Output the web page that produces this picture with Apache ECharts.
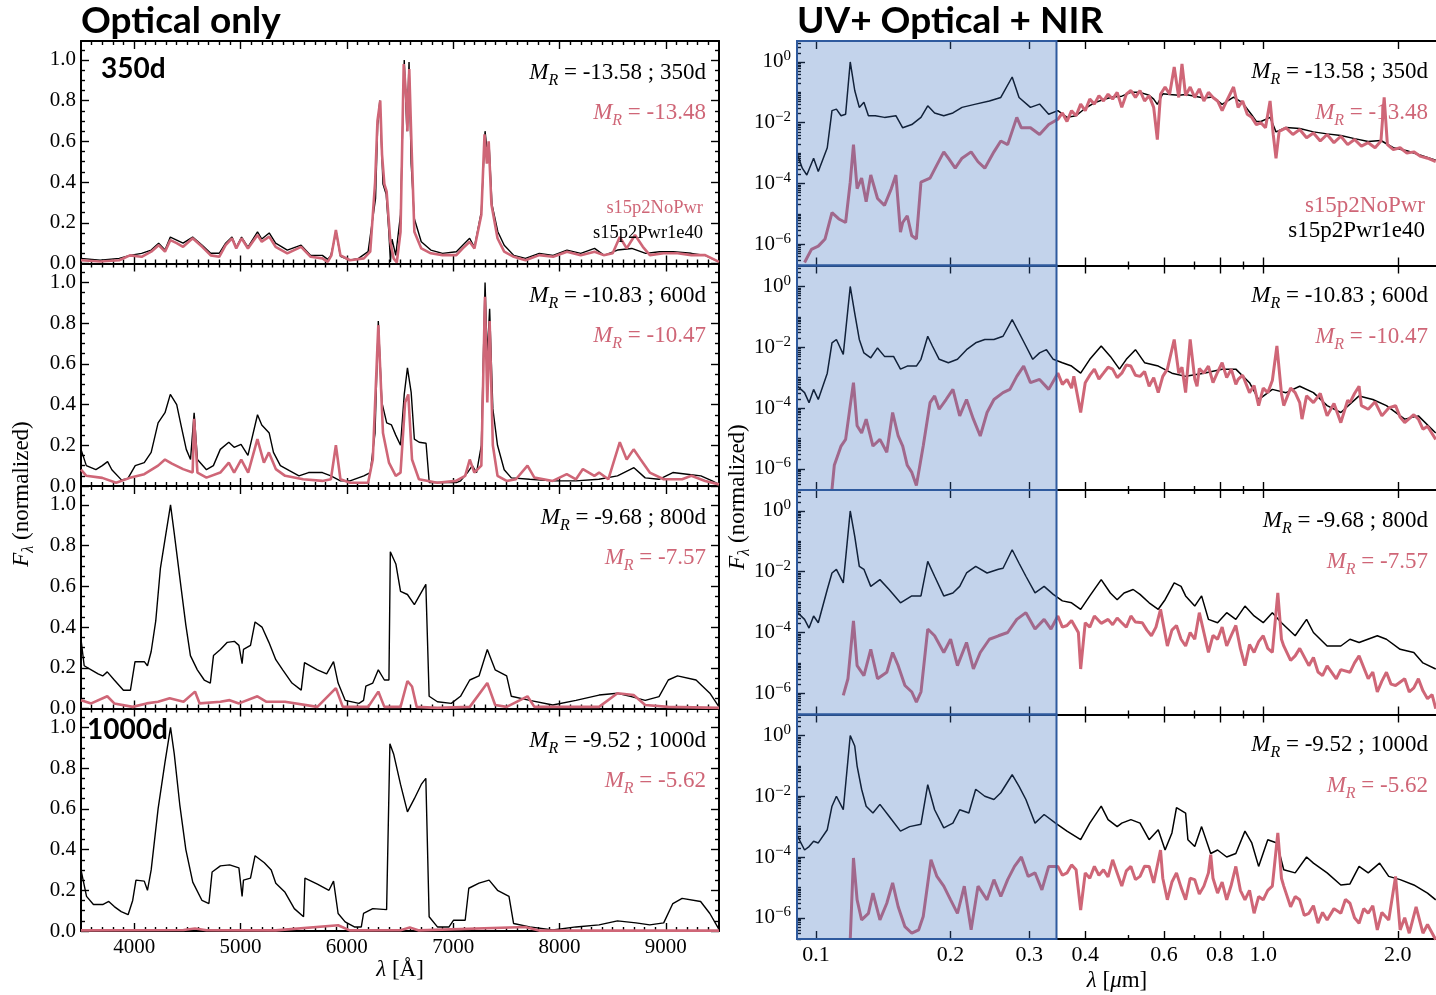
<!DOCTYPE html>
<html>
<head>
<meta charset="utf-8">
<script src="https://cdn.jsdelivr.net/npm/echarts@6/dist/echarts.min.js"></script>
<style>
  html, body { margin: 0; padding: 0; background: #fff; }
  #chart { width: 1436px; height: 995px; }
</style>
</head>
<body>
<div id="chart"></div>
<script>
// ---------- optical spectra: [wavelength (Å), normalised F_lambda] ----------
const opt350Pwr = [[3500,0.025],[3680,0.016],[3860,0.025],[3960,0.04],[4070,0.05],[4160,0.066],[4230,0.1],[4290,0.066],[4340,0.13],[4400,0.115],[4460,0.1],[4550,0.13],[4640,0.09],[4720,0.05],[4800,0.05],[4860,0.1],[4920,0.13],[4960,0.08],[5010,0.13],[5070,0.08],[5160,0.155],[5200,0.12],[5270,0.15],[5330,0.1],[5440,0.066],[5570,0.09],[5660,0.04],[5770,0.04],[5820,0.02],[5850,0.04],[5900,0.155],[5940,0.035],[6030,0.016],[6110,0.025],[6200,0.058],[6270,0.32],[6290,0.68],[6310,0.8],[6340,0.39],[6370,0.34],[6395,0.156],[6410,0.008],[6425,0.12],[6460,0.04],[6505,0.24],[6540,1.0],[6565,0.65],[6585,0.99],[6605,0.49],[6635,0.22],[6700,0.107],[6790,0.066],[6900,0.05],[7030,0.058],[7090,0.09],[7155,0.124],[7200,0.08],[7265,0.255],[7300,0.65],[7320,0.55],[7338,0.585],[7365,0.29],[7420,0.156],[7480,0.09],[7570,0.04],[7680,0.025],[7810,0.05],[7940,0.04],[8070,0.066],[8200,0.05],[8330,0.074],[8420,0.04],[8545,0.066],[8680,0.074],[8810,0.05],[8940,0.058],[9070,0.058],[9240,0.05],[9370,0.04],[9500,0.008]];
const opt350NoPwr = [[3500,0.016],[3680,0.01],[3860,0.016],[3960,0.04],[4070,0.033],[4160,0.058],[4230,0.09],[4290,0.058],[4340,0.115],[4400,0.1],[4460,0.082],[4550,0.124],[4640,0.082],[4720,0.04],[4800,0.033],[4860,0.09],[4920,0.124],[4960,0.074],[5010,0.124],[5070,0.074],[5160,0.14],[5200,0.107],[5270,0.132],[5330,0.082],[5440,0.05],[5570,0.082],[5660,0.033],[5770,0.025],[5820,0.008],[5855,0.04],[5897,0.165],[5940,0.04],[6030,0.016],[6160,0.025],[6220,0.058],[6266,0.4],[6288,0.7],[6314,0.8],[6331,0.535],[6353,0.39],[6374,0.354],[6409,0.107],[6440,0.025],[6470,0.005],[6505,0.156],[6535,0.98],[6557,0.83],[6570,0.65],[6587,0.955],[6609,0.57],[6635,0.156],[6700,0.074],[6790,0.05],[6900,0.041],[7030,0.041],[7090,0.074],[7155,0.107],[7200,0.074],[7265,0.24],[7295,0.635],[7317,0.49],[7334,0.6],[7360,0.29],[7417,0.124],[7480,0.058],[7570,0.033],[7680,0.016],[7810,0.041],[7940,0.033],[8070,0.058],[8200,0.041],[8330,0.058],[8415,0.041],[8500,0.05],[8567,0.13],[8632,0.074],[8710,0.14],[8784,0.082],[8850,0.041],[8980,0.05],[9110,0.05],[9240,0.041],[9370,0.041],[9500,0.008]];

const opt600Pwr = [[3500,0.18],[3550,0.1],[3640,0.08],[3700,0.1],[3750,0.12],[3790,0.08],[3880,0.03],[3940,0.036],[4010,0.1],[4095,0.115],[4160,0.165],[4225,0.31],[4290,0.36],[4340,0.45],[4400,0.4],[4440,0.3],[4490,0.18],[4530,0.13],[4564,0.36],[4595,0.13],[4680,0.08],[4745,0.1],[4810,0.18],[4890,0.215],[4940,0.19],[5005,0.205],[5070,0.15],[5160,0.35],[5200,0.3],[5270,0.26],[5310,0.165],[5375,0.1],[5460,0.075],[5550,0.05],[5640,0.066],[5770,0.066],[5850,0.05],[5940,0.025],[6030,0.025],[6160,0.05],[6220,0.066],[6265,0.26],[6296,0.81],[6330,0.41],[6375,0.31],[6420,0.3],[6460,0.25],[6505,0.2],[6540,0.45],[6570,0.58],[6605,0.46],[6635,0.23],[6680,0.215],[6745,0.21],[6775,0.017],[6900,0.017],[7030,0.017],[7070,0.025],[7135,0.066],[7180,0.1],[7220,0.066],[7265,0.2],[7300,1.0],[7320,0.63],[7343,0.87],[7373,0.38],[7417,0.2],[7480,0.08],[7547,0.04],[7720,0.033],[7937,0.025],[8155,0.025],[8370,0.033],[8545,0.05],[8700,0.09],[8806,0.04],[8936,0.033],[9066,0.066],[9200,0.058],[9330,0.05],[9436,0.025],[9500,0.008]];
const opt600NoPwr = [[3500,0.08],[3550,0.05],[3700,0.04],[3830,0.016],[3960,0.04],[4095,0.058],[4225,0.1],[4290,0.13],[4355,0.11],[4460,0.083],[4550,0.066],[4564,0.33],[4595,0.066],[4680,0.041],[4810,0.066],[4890,0.115],[4940,0.066],[5007,0.13],[5072,0.066],[5159,0.23],[5220,0.115],[5267,0.165],[5332,0.083],[5420,0.05],[5590,0.033],[5770,0.025],[5850,0.033],[5897,0.2],[5940,0.033],[6030,0.016],[6200,0.016],[6244,0.13],[6296,0.79],[6340,0.26],[6396,0.115],[6460,0.05],[6505,0.066],[6548,0.41],[6578,0.45],[6613,0.13],[6678,0.033],[6850,0.016],[7026,0.025],[7113,0.05],[7156,0.13],[7199,0.066],[7265,0.1],[7299,0.93],[7321,0.41],[7343,0.81],[7373,0.2],[7417,0.05],[7503,0.025],[7590,0.033],[7699,0.1],[7764,0.041],[7937,0.025],[8068,0.058],[8155,0.033],[8220,0.083],[8328,0.05],[8372,0.066],[8459,0.033],[8567,0.215],[8632,0.13],[8697,0.18],[8763,0.13],[8849,0.066],[8980,0.033],[9153,0.033],[9240,0.05],[9370,0.025],[9500,0.008]];

const opt800Pwr = [[3500,0.34],[3530,0.21],[3596,0.19],[3661,0.17],[3704,0.16],[3747,0.18],[3813,0.14],[3899,0.09],[3965,0.09],[4008,0.23],[4095,0.23],[4125,0.21],[4160,0.28],[4203,0.43],[4247,0.69],[4299,0.86],[4342,1.0],[4377,0.86],[4442,0.59],[4486,0.41],[4529,0.26],[4594,0.19],[4659,0.14],[4716,0.125],[4746,0.26],[4811,0.29],[4876,0.325],[4942,0.33],[4985,0.31],[5015,0.22],[5028,0.29],[5094,0.31],[5137,0.425],[5202,0.4],[5267,0.325],[5332,0.24],[5397,0.19],[5484,0.125],[5571,0.09],[5602,0.225],[5723,0.19],[5810,0.17],[5875,0.23],[5918,0.125],[5984,0.04],[6114,0.025],[6157,0.04],[6179,0.11],[6244,0.125],[6296,0.19],[6353,0.14],[6396,0.14],[6409,0.77],[6461,0.71],[6505,0.575],[6570,0.56],[6635,0.51],[6743,0.61],[6774,0.06],[6852,0.033],[6982,0.025],[7069,0.06],[7156,0.14],[7243,0.16],[7321,0.29],[7395,0.19],[7503,0.16],[7547,0.06],[7720,0.04],[7937,0.017],[8155,0.04],[8372,0.066],[8545,0.075],[8676,0.058],[8806,0.04],[8936,0.058],[9023,0.14],[9110,0.16],[9284,0.14],[9414,0.075],[9500,0.008]];
const opt800NoPwr = [[3500,0.04],[3596,0.025],[3747,0.06],[3813,0.025],[3986,0.008],[4117,0.025],[4225,0.033],[4334,0.05],[4464,0.033],[4572,0.083],[4616,0.025],[4811,0.033],[4898,0.041],[4985,0.025],[5159,0.06],[5245,0.033],[5419,0.033],[5723,0.008],[5897,0.1],[5962,0.008],[6201,0.008],[6296,0.083],[6353,0.008],[6505,0.008],[6570,0.135],[6613,0.108],[6657,0.008],[6852,0.003],[7156,0.008],[7321,0.125],[7395,0.017],[7503,0.008],[7699,0.06],[7764,0.008],[8372,0.008],[8545,0.075],[8697,0.066],[8806,0.017],[9023,0.008],[9500,0.003]];

const opt1000Pwr = [[3500,0.3],[3552,0.17],[3617,0.13],[3704,0.13],[3761,0.145],[3813,0.12],[3878,0.095],[3943,0.08],[3986,0.15],[4017,0.25],[4095,0.245],[4125,0.2],[4160,0.3],[4225,0.6],[4290,0.83],[4342,1.0],[4377,0.87],[4429,0.62],[4486,0.4],[4551,0.24],[4638,0.15],[4703,0.135],[4733,0.29],[4811,0.32],[4898,0.325],[4985,0.31],[5015,0.17],[5028,0.25],[5094,0.26],[5137,0.37],[5224,0.335],[5289,0.3],[5332,0.235],[5419,0.19],[5506,0.11],[5593,0.07],[5606,0.26],[5723,0.23],[5832,0.2],[5875,0.245],[5918,0.086],[5984,0.045],[6071,0.02],[6136,0.02],[6157,0.086],[6244,0.11],[6374,0.105],[6405,0.92],[6440,0.87],[6505,0.72],[6570,0.585],[6635,0.65],[6700,0.72],[6743,0.75],[6774,0.07],[6852,0.02],[6961,0.02],[7004,0.053],[7113,0.053],[7147,0.21],[7243,0.235],[7338,0.25],[7417,0.2],[7525,0.17],[7568,0.037],[7720,0.02],[7937,0.005],[8155,0.02],[8372,0.03],[8545,0.05],[8719,0.04],[8849,0.03],[8980,0.04],[9066,0.135],[9153,0.16],[9327,0.145],[9414,0.086],[9500,0.008]];
const opt1000NoPwr = [[3500,0.003],[4464,0.005],[4572,0.012],[4680,0.004],[5332,0.003],[5918,0.028],[6027,0.003],[6505,0.004],[6592,0.017],[6678,0.003],[7677,0.02],[7807,0.002],[9500,0.002]];

// ---------- UV + optical + NIR spectra: [wavelength (µm), normalised F_lambda] ----------
const sed350Pwr = [[0.091,8.7e-4],[0.0932,3.2e-4],[0.0954,1.9e-4],[0.0988,6.8e-4],[0.1012,2.5e-4],[0.106,1.5e-3],[0.1086,2.5e-2],[0.1111,2.8e-2],[0.1138,1.7e-2],[0.1165,1.9e-2],[0.1193,1.0],[0.1221,0.115],[0.125,3.2e-2],[0.128,4.7e-2],[0.131,1.7e-2],[0.1357,1.7e-2],[0.1423,1.5e-2],[0.1509,1.7e-2],[0.1563,6.8e-3],[0.1638,8.7e-3],[0.1717,1.5e-2],[0.1778,3.6e-2],[0.1842,2.1e-2],[0.1931,1.7e-2],[0.2024,2.1e-2],[0.2121,3.2e-2],[0.2276,4.1e-2],[0.2442,5.2e-2],[0.259,6.8e-2],[0.2746,0.32],[0.2845,6.8e-2],[0.3017,3.2e-2],[0.3162,4.1e-2],[0.3314,1.9e-2],[0.3474,2.5e-2],[0.3641,1.5e-2],[0.3816,1.7e-2],[0.4,3.0e-2],[0.4193,4.5e-2],[0.4394,5.8e-2],[0.4606,7.0e-2],[0.4828,7.5e-2],[0.506,0.1],[0.5303,0.1],[0.5558,8.0e-2],[0.569,6.0e-2],[0.5798,4.0e-2],[0.5963,9.0e-2],[0.6177,8.5e-2],[0.6474,8.0e-2],[0.6706,8.5e-2],[0.7029,7.5e-2],[0.7368,6.5e-2],[0.7722,7.0e-2],[0.8094,4.0e-2],[0.8584,7.0e-2],[0.8996,4.5e-2],[0.9429,1.8e-2],[0.9653,1.1e-2],[0.9883,1.1e-2],[1.0359,1.5e-2],[1.068,5.0e-3],[1.1246,7.0e-3],[1.2068,6.5e-3],[1.295,5.0e-3],[1.3896,4.3e-3],[1.4912,3.8e-3],[1.6001,3.0e-3],[1.717,2.4e-3],[1.8332,2.6e-3],[1.9537,1.5e-3],[2.0956,1.2e-3],[2.2495,8.5e-4],[2.4307,5.8e-4]];
const sed350NoPwr = [[0.0943,2.5e-7],[0.0977,6.8e-7],[0.1012,8.7e-7],[0.1048,1.5e-6],[0.1086,1.1e-5],[0.1125,6.8e-6],[0.1165,5.2e-6],[0.1193,1.1e-4],[0.1213,1.9e-3],[0.1236,6.8e-5],[0.1265,1.5e-4],[0.1295,2.5e-5],[0.1326,1.9e-4],[0.1373,3.2e-5],[0.1423,1.9e-5],[0.1474,6.8e-5],[0.1509,1.9e-4],[0.1545,2.5e-6],[0.1563,5.2e-6],[0.16,8.7e-6],[0.1638,1.9e-6],[0.1677,1.5e-6],[0.1717,1.1e-4],[0.1799,1.5e-4],[0.1864,4.1e-4],[0.1931,1.1e-3],[0.1977,6.8e-4],[0.2048,3.2e-4],[0.2121,6.8e-4],[0.2223,1.1e-3],[0.2303,5.2e-4],[0.2385,3.2e-4],[0.25,1.1e-3],[0.259,2.5e-3],[0.2683,1.9e-3],[0.2812,1.5e-2],[0.2879,6.8e-3],[0.3017,6.8e-3],[0.3162,4.1e-3],[0.3314,8.7e-3],[0.3474,1.3e-2],[0.3556,2.1e-2],[0.3641,1.1e-2],[0.3728,2.5e-2],[0.3816,1.7e-2],[0.3907,4.1e-2],[0.4,2.5e-2],[0.4095,6.0e-2],[0.4193,4.1e-2],[0.4292,7.8e-2],[0.4394,5.2e-2],[0.4499,8.7e-2],[0.4606,6.0e-2],[0.4715,0.1],[0.4828,3.2e-2],[0.4942,8.7e-2],[0.506,0.115],[0.518,6.8e-2],[0.5303,0.115],[0.5429,5.2e-2],[0.5558,7.8e-2],[0.569,3.2e-2],[0.5798,2.8e-3],[0.5894,8.7e-2],[0.6034,0.15],[0.6177,8.7e-2],[0.6324,0.68],[0.6474,6.8e-2],[0.6582,0.87],[0.6706,7.8e-2],[0.6866,0.15],[0.7029,6.8e-2],[0.7197,0.13],[0.7368,5.2e-2],[0.7543,0.1],[0.7722,6.8e-2],[0.7906,5.2e-2],[0.8094,2.5e-2],[0.8286,5.2e-2],[0.8584,0.15],[0.8788,3.2e-2],[0.8996,5.2e-2],[0.9211,1.9e-2],[0.9429,1.5e-2],[0.9653,8.7e-3],[0.9883,1.0e-2],[1.0118,6.8e-3],[1.0359,5.2e-2],[1.053,4.1e-3],[1.068,6.8e-4],[1.0855,5.2e-3],[1.1246,6.8e-3],[1.165,4.1e-3],[1.2068,6.0e-3],[1.2501,3.2e-3],[1.295,4.6e-3],[1.3414,2.5e-3],[1.3896,4.1e-3],[1.4395,2.2e-3],[1.4912,3.6e-3],[1.5447,1.9e-3],[1.6001,2.8e-3],[1.6576,1.7e-3],[1.717,2.2e-3],[1.7786,1.5e-3],[1.8332,2.5e-3],[1.8639,6.8e-2],[1.8952,1.9e-3],[1.9537,1.3e-3],[2.0236,1.5e-3],[2.0956,1.0e-3],[2.1714,1.1e-3],[2.2495,7.8e-4],[2.3299,6.8e-4],[2.4307,5.3e-4]];

const sed600Pwr = [[0.091,5.2e-4],[0.0943,3.2e-4],[0.0965,1.5e-4],[0.0988,4.1e-4],[0.1012,1.9e-4],[0.106,1.4e-3],[0.1086,1.4e-2],[0.1111,1.8e-2],[0.1151,5.8e-3],[0.1193,1.0],[0.1221,0.13],[0.125,1.8e-2],[0.128,6.5e-3],[0.1326,4.5e-3],[0.1373,9.5e-3],[0.1423,5.0e-3],[0.1491,5.0e-3],[0.1545,1.9e-3],[0.16,2.4e-3],[0.1677,2.4e-3],[0.1717,4.0e-3],[0.1778,2.3e-2],[0.1821,1.1e-2],[0.1886,4.0e-3],[0.1977,3.1e-3],[0.2072,4.0e-3],[0.2171,8.3e-3],[0.2276,1.4e-2],[0.2385,1.8e-2],[0.25,1.8e-2],[0.262,2.3e-2],[0.2746,8.1e-2],[0.2845,3.0e-2],[0.2947,1.1e-2],[0.3053,4.0e-3],[0.3162,6.5e-3],[0.3276,8.3e-3],[0.3393,4.0e-3],[0.3556,3.1e-3],[0.3728,2.4e-3],[0.3907,1.4e-3],[0.4095,4.0e-3],[0.4343,1.1e-2],[0.4552,5.0e-3],[0.4771,1.9e-3],[0.4942,4.0e-3],[0.518,8.3e-3],[0.5429,3.1e-3],[0.5825,2.4e-3],[0.625,1.4e-3],[0.6706,1.1e-3],[0.7368,1.4e-3],[0.8094,1.9e-3],[0.8685,1.9e-3],[0.9319,6.8e-4],[0.9767,1.9e-4],[1.0481,4.1e-4],[1.1246,3.2e-4],[1.2068,5.2e-4],[1.295,3.2e-4],[1.3896,1.2e-4],[1.4912,7.1e-5],[1.6381,2.5e-4],[1.7579,1.9e-4],[1.8859,1.2e-4],[2.0717,4.3e-5],[2.223,5.5e-5],[2.4307,1.5e-5]];
const sed600NoPwr = [[0.1086,2.1e-7],[0.1099,1.3e-6],[0.1138,5.6e-6],[0.1165,9.3e-6],[0.1193,1.2e-4],[0.1213,6.8e-4],[0.1236,2.6e-5],[0.1265,1.5e-5],[0.1295,4.3e-5],[0.1341,5.6e-6],[0.139,9.3e-6],[0.144,3.5e-6],[0.1484,7.1e-5],[0.1527,1.2e-5],[0.1563,5.6e-6],[0.16,1.3e-6],[0.1638,7.6e-7],[0.1677,2.8e-7],[0.1737,5.6e-6],[0.1799,1.5e-4],[0.1842,2.5e-4],[0.1886,9.1e-5],[0.1954,1.9e-4],[0.2024,4.1e-4],[0.2096,5.5e-5],[0.2171,1.9e-4],[0.2249,4.3e-5],[0.233,1.2e-5],[0.2413,7.1e-5],[0.25,1.9e-4],[0.262,3.2e-4],[0.2714,4.1e-4],[0.2812,1.1e-3],[0.2913,2.4e-3],[0.3017,6.8e-4],[0.3162,8.7e-4],[0.3314,4.1e-4],[0.3474,1.4e-3],[0.3556,6.0e-4],[0.3641,8.7e-4],[0.3728,4.5e-4],[0.3772,1.1e-3],[0.3907,7.1e-5],[0.4,6.8e-4],[0.4095,1.2e-3],[0.4193,1.9e-3],[0.4292,9.0e-4],[0.4394,1.4e-3],[0.4499,2.2e-3],[0.4606,1.9e-3],[0.4715,1.0e-3],[0.4828,1.4e-3],[0.4942,2.6e-3],[0.506,2.4e-3],[0.518,1.2e-3],[0.5303,1.1e-3],[0.5429,1.6e-3],[0.5558,5.2e-4],[0.569,1.0e-3],[0.5825,3.2e-4],[0.5963,1.1e-3],[0.6105,1.9e-3],[0.6324,1.8e-2],[0.6474,1.4e-3],[0.6582,2.2e-3],[0.6706,3.2e-4],[0.6866,1.8e-2],[0.7029,9.0e-4],[0.7112,5.2e-4],[0.7197,2.0e-3],[0.7368,1.4e-3],[0.7543,2.4e-3],[0.7722,6.8e-4],[0.7906,1.5e-3],[0.8094,3.1e-3],[0.8286,1.0e-3],[0.8483,1.9e-3],[0.8685,6.0e-4],[0.8788,8.7e-4],[0.8996,1.2e-3],[0.9319,3.2e-4],[0.9541,5.5e-4],[0.9767,1.2e-4],[1.0,4.5e-4],[1.0238,3.2e-4],[1.0481,8.0e-4],[1.073,1.1e-2],[1.0985,3.0e-4],[1.1115,1.2e-4],[1.1514,4.5e-4],[1.1788,3.2e-4],[1.2068,1.5e-4],[1.221,4.3e-5],[1.2501,2.5e-4],[1.295,1.5e-4],[1.3414,3.0e-4],[1.3896,5.5e-5],[1.4395,1.4e-4],[1.4912,3.3e-5],[1.5447,1.8e-4],[1.5629,1.5e-4],[1.6001,3.0e-4],[1.6381,5.2e-4],[1.6576,1.2e-4],[1.717,9.1e-5],[1.7786,1.6e-4],[1.8421,5.5e-5],[1.9082,1.0e-4],[1.9766,1.2e-4],[2.0236,5.0e-5],[2.0717,3.3e-5],[2.1714,6.0e-5],[2.223,4.3e-5],[2.2758,2.0e-5],[2.3299,2.5e-5],[2.4307,9.3e-6]];

const sed800Pwr = [[0.091,4.5e-4],[0.0943,2.7e-4],[0.0965,1.4e-4],[0.0988,3.5e-4],[0.1012,2.1e-4],[0.106,2.6e-3],[0.1086,9.1e-3],[0.1111,1.2e-2],[0.1151,4.3e-3],[0.1193,1.0],[0.1221,0.145],[0.125,1.5e-2],[0.128,1.2e-2],[0.1326,3.3e-3],[0.139,5.5e-3],[0.1457,2.6e-3],[0.1545,9.5e-4],[0.1638,1.6e-3],[0.1717,1.6e-3],[0.1778,2.2e-2],[0.1842,7.1e-3],[0.1931,1.6e-3],[0.2024,2.0e-3],[0.2096,3.3e-3],[0.2171,9.1e-3],[0.2276,1.5e-2],[0.2413,9.1e-3],[0.2559,1.2e-2],[0.262,1.3e-2],[0.2746,5.3e-2],[0.2845,1.9e-2],[0.2947,7.1e-3],[0.3089,2.0e-3],[0.3237,3.3e-3],[0.3393,1.8e-3],[0.3556,1.1e-3],[0.3728,9.5e-4],[0.3907,5.8e-4],[0.4095,1.6e-3],[0.4343,5.5e-3],[0.4552,2.0e-3],[0.4715,1.2e-3],[0.4885,2.0e-3],[0.512,2.6e-3],[0.5303,1.8e-3],[0.5558,9.5e-4],[0.5825,5.8e-4],[0.6034,1.2e-3],[0.6324,4.3e-3],[0.6551,3.3e-3],[0.6706,1.6e-3],[0.7029,7.4e-4],[0.7282,1.6e-3],[0.7543,2.7e-4],[0.7906,2.1e-4],[0.8286,4.5e-4],[0.8685,2.7e-4],[0.9103,7.4e-4],[0.9541,3.5e-4],[1.0,2.1e-4],[1.0481,4.5e-4],[1.0985,2.1e-4],[1.1788,7.8e-5],[1.2501,2.7e-4],[1.295,1.0e-4],[1.3896,3.6e-5],[1.4912,3.6e-5],[1.5629,6.0e-5],[1.6381,4.7e-5],[1.7993,7.8e-5],[1.8859,6.0e-5],[2.0236,2.8e-5],[2.1714,2.2e-5],[2.2758,1.0e-5],[2.4307,6.3e-6]];
const sed800NoPwr = [[0.1151,8.5e-7],[0.1179,3.0e-6],[0.1213,2.4e-4],[0.1236,8.1e-6],[0.128,3.8e-6],[0.1326,2.8e-5],[0.1373,3.0e-6],[0.144,4.9e-6],[0.1484,2.2e-5],[0.1527,8.1e-6],[0.1581,1.8e-6],[0.1638,1.1e-6],[0.1677,5.1e-7],[0.1717,1.1e-6],[0.1778,1.3e-4],[0.1842,7.8e-5],[0.1931,2.2e-5],[0.2,6.0e-5],[0.2072,8.1e-6],[0.2171,4.7e-5],[0.2249,6.3e-6],[0.233,2.2e-5],[0.2442,6.0e-5],[0.2559,7.8e-5],[0.2683,1.0e-4],[0.2812,2.7e-4],[0.2947,4.5e-4],[0.3089,1.3e-4],[0.3237,2.7e-4],[0.3353,1.3e-4],[0.3474,3.5e-4],[0.3556,1.5e-4],[0.3641,1.7e-4],[0.3728,2.5e-4],[0.3861,1.0e-4],[0.3907,6.3e-6],[0.4,2.1e-4],[0.4095,1.5e-4],[0.4193,3.5e-4],[0.4343,2.0e-4],[0.4499,2.7e-4],[0.4606,1.8e-4],[0.4715,3.0e-4],[0.4828,2.1e-4],[0.4942,1.5e-4],[0.506,3.5e-4],[0.518,2.2e-4],[0.5366,2.1e-4],[0.5494,1.2e-4],[0.5623,7.8e-5],[0.5757,1.5e-4],[0.5894,5.8e-4],[0.6105,3.6e-5],[0.625,1.2e-4],[0.6399,1.7e-4],[0.6551,6.0e-5],[0.6706,3.6e-5],[0.6866,1.0e-4],[0.7029,6.0e-5],[0.7197,4.5e-4],[0.7368,1.0e-4],[0.7543,2.2e-5],[0.7722,8.0e-5],[0.7906,6.0e-5],[0.8094,1.5e-4],[0.8286,3.6e-5],[0.8483,8.0e-5],[0.8685,1.7e-4],[0.8891,3.0e-5],[0.9103,8.1e-6],[0.9319,4.0e-5],[0.9541,2.2e-5],[0.9767,5.0e-5],[1.0,7.8e-5],[1.0238,3.0e-5],[1.0481,2.2e-5],[1.0781,2.0e-3],[1.0985,6.0e-5],[1.1115,3.6e-5],[1.1514,1.2e-5],[1.1788,1.7e-5],[1.2068,3.0e-5],[1.2649,8.1e-6],[1.295,1.5e-5],[1.3258,5.0e-6],[1.3573,3.8e-6],[1.3896,8.0e-6],[1.4565,3.0e-6],[1.4912,6.0e-6],[1.5629,4.9e-6],[1.6001,1.0e-5],[1.6381,1.7e-5],[1.717,3.0e-6],[1.7579,5.0e-6],[1.7993,1.1e-6],[1.8421,2.5e-6],[1.8859,4.9e-6],[1.9307,2.0e-6],[1.9766,1.8e-6],[2.0717,3.0e-6],[2.121,1.1e-6],[2.1714,1.5e-6],[2.223,3.0e-6],[2.2758,1.2e-6],[2.3299,6.6e-7],[2.3852,9.0e-7],[2.4307,3.1e-7]];

const sed1000Pwr = [[0.091,4.8e-4],[0.0943,1.7e-4],[0.0965,2.2e-4],[0.0988,3.3e-4],[0.1012,2.9e-4],[0.106,7.9e-4],[0.1086,4.7e-3],[0.1111,1.0e-2],[0.1151,3.6e-3],[0.1193,1.0],[0.1221,0.45],[0.1236,9.8e-2],[0.1265,1.7e-2],[0.1295,4.7e-3],[0.1341,2.8e-3],[0.139,5.4e-3],[0.1457,2.2e-3],[0.1545,7.1e-4],[0.1619,1.0e-3],[0.1717,1.2e-3],[0.1778,2.4e-2],[0.1842,3.6e-3],[0.1931,9.1e-4],[0.2024,1.3e-3],[0.2096,3.6e-3],[0.2197,2.8e-3],[0.2276,1.7e-2],[0.2385,1.0e-2],[0.25,7.8e-3],[0.259,1.3e-2],[0.2746,5.1e-2],[0.2845,2.1e-2],[0.2947,7.8e-3],[0.3089,1.3e-3],[0.3237,2.5e-3],[0.3433,1.3e-3],[0.3641,7.1e-4],[0.3907,3.7e-4],[0.4095,1.3e-3],[0.4343,4.7e-3],[0.4499,1.7e-3],[0.4715,1.0e-3],[0.4828,1.3e-3],[0.506,1.7e-3],[0.5303,1.3e-3],[0.5558,3.7e-4],[0.5825,7.9e-4],[0.6034,1.7e-4],[0.625,6.2e-4],[0.6399,4.2e-3],[0.6706,2.8e-3],[0.6786,3.7e-4],[0.7029,2.2e-4],[0.7282,1.0e-3],[0.7632,1.3e-4],[0.7906,1.7e-4],[0.8286,1.0e-4],[0.8685,1.3e-4],[0.9103,7.1e-4],[0.9429,2.9e-4],[0.9767,4.9e-5],[1.0238,3.7e-4],[1.073,2.9e-4],[1.1115,3.8e-5],[1.1788,3.0e-5],[1.2501,1.0e-4],[1.295,6.3e-5],[1.3896,3.0e-5],[1.4912,1.2e-5],[1.5629,1.3e-5],[1.6381,4.9e-5],[1.717,3.0e-5],[1.8206,6.3e-5],[1.9082,2.3e-5],[2.0236,1.8e-5],[2.1714,1.2e-5],[2.3299,6.5e-6],[2.4307,3.9e-6]];
const sed1000NoPwr = [[0.1193,1.9e-7],[0.1213,9.3e-5],[0.1236,3.9e-6],[0.1265,8.5e-7],[0.131,1.4e-6],[0.1341,6.5e-6],[0.139,8.5e-7],[0.144,3.0e-6],[0.1484,1.4e-5],[0.1527,2.3e-6],[0.1581,5.1e-7],[0.1638,3.1e-7],[0.1697,4.0e-7],[0.1737,1.1e-6],[0.1808,8.1e-5],[0.1864,2.3e-5],[0.1931,1.1e-5],[0.2,3.9e-6],[0.2072,1.4e-6],[0.2146,1.1e-5],[0.2223,4.0e-7],[0.2303,1.1e-5],[0.2413,3.9e-6],[0.25,1.8e-5],[0.259,5.0e-6],[0.2683,1.8e-5],[0.2779,4.9e-5],[0.2879,1.0e-4],[0.2982,2.3e-5],[0.3089,3.0e-5],[0.32,8.3e-6],[0.3314,4.9e-5],[0.3474,4.9e-5],[0.3556,2.5e-5],[0.3641,3.0e-5],[0.3728,5.5e-5],[0.3816,3.8e-5],[0.3907,1.8e-6],[0.4,3.0e-5],[0.4095,2.0e-5],[0.4193,4.9e-5],[0.4292,2.5e-5],[0.4394,3.8e-5],[0.4499,2.2e-5],[0.4606,8.1e-5],[0.4715,3.0e-5],[0.4828,1.1e-5],[0.4942,3.5e-5],[0.506,4.9e-5],[0.518,1.8e-5],[0.5303,2.3e-5],[0.5429,5.0e-5],[0.5558,4.9e-5],[0.569,1.4e-5],[0.5894,1.7e-4],[0.5963,2.0e-5],[0.6105,3.9e-6],[0.625,1.5e-5],[0.6399,3.0e-5],[0.6551,1.0e-5],[0.6706,3.9e-6],[0.6866,2.0e-5],[0.7029,1.8e-5],[0.7197,6.0e-6],[0.7368,1.1e-5],[0.7543,3.0e-5],[0.7632,1.2e-4],[0.7722,2.0e-5],[0.7906,6.5e-6],[0.8094,1.5e-5],[0.8286,3.9e-6],[0.8483,1.2e-5],[0.8685,4.9e-5],[0.8891,8.0e-6],[0.9103,3.9e-6],[0.9319,8.0e-6],[0.9541,1.4e-6],[0.9767,5.0e-6],[1.0,3.9e-6],[1.0238,8.0e-6],[1.0481,1.1e-5],[1.0781,6.2e-4],[1.0985,2.0e-5],[1.1115,1.1e-5],[1.1514,2.3e-6],[1.1788,5.0e-6],[1.2068,3.9e-6],[1.2353,1.2e-6],[1.2649,1.4e-6],[1.295,2.5e-6],[1.3258,6.6e-7],[1.3573,1.5e-6],[1.3896,8.5e-7],[1.4395,2.0e-6],[1.4912,1.4e-6],[1.5269,4.0e-6],[1.5629,3.0e-6],[1.6001,1.0e-6],[1.6381,6.6e-7],[1.6776,2.0e-6],[1.717,1.4e-6],[1.7579,2.5e-6],[1.7993,4.0e-7],[1.8421,1.5e-6],[1.9082,8.5e-7],[1.9766,2.3e-5],[2.0236,4.0e-7],[2.0717,1.0e-6],[2.121,3.1e-7],[2.197,2.3e-6],[2.2758,3.1e-7],[2.3299,6.0e-7],[2.4307,1.9e-7]];

// ---------- panel labels and axis ticks ----------
const epochs = ['350d', '600d', '800d', '1000d'];
const magPwr = ['-13.58', '-10.83', '-9.68', '-9.52'];
const magNoPwr = ['-13.48', '-10.47', '-7.57', '-5.62'];
const modelNames = ['s15p2NoPwr', 's15p2Pwr1e40'];

const optWaveRange = [3500, 9500];
const optFluxRange = [0, 1.093];
const optWaveTicks = [4000, 5000, 6000, 7000, 8000, 9000];
const optFluxTicks = [0, 0.2, 0.4, 0.6, 0.8, 1.0];

const sedWaveRange = [0.0907, 2.434];
const sedFluxRange = [2.0e-7, 4.9];
const sedWaveTicks = [0.1, 0.2, 0.3, 0.4, 0.6, 0.8, 1.0, 2.0];
const sedWaveMinorTicks = [0.5, 0.7, 0.9];
const sedFluxTicks = [1e-6, 1e-4, 1e-2, 1];
const uvEdge = 0.345;   // red end of the UV band highlighted in the right column

const optSeries = [[opt350Pwr, opt350NoPwr], [opt600Pwr, opt600NoPwr], [opt800Pwr, opt800NoPwr], [opt1000Pwr, opt1000NoPwr]];
const sedSeries = [[sed350Pwr, sed350NoPwr], [sed600Pwr, sed600NoPwr], [sed800Pwr, sed800NoPwr], [sed1000Pwr, sed1000NoPwr]];

// ---------- styling ----------
const PINK = '#cf6677';
const BLACK = '#000000';
const SERIF = '"Liberation Serif", "DejaVu Serif", serif';
const SANS = 'Lato, "Open Sans", sans-serif';

// minor tick positions
const optWaveMinor = [];
for (let w = 3600; w < 9500; w += 100) if (w % 1000 !== 0) optWaveMinor.push(w);
const optFluxMinor = [];
for (let k = 1; k <= 21; k++) { const v = +(k * 0.05).toFixed(2); if (Math.round(v * 100) % 20 !== 0) optFluxMinor.push(v); }
const sedFluxMinor = [];
for (let e = -7; e <= 0; e++) {
  for (let m = 1; m <= 9; m++) {
    const v = m * Math.pow(10, e);
    if (m === 1 && e % 2 === 0) continue;
    if (v >= sedFluxRange[0] && v <= sedFluxRange[1]) sedFluxMinor.push(v);
  }
}

const LEFT = { left: 81, width: 638, top: 41, h: 222.5 };
const RIGHT = { left: 797, width: 639, top: 41, h: 224.5 };

const option = { animation: false, backgroundColor: '#fff', grid: [], xAxis: [], yAxis: [], series: [], graphic: [] };

function supLabel(v) {
  const e = Math.round(Math.log10(v));
  return '{b|10}{s|' + (e < 0 ? '\u2212' + (-e) : e) + '}';
}

function addAxes(gi, kind, isBottom, withRight) {
  const isOpt = kind === 'opt';
  const xType = isOpt ? 'value' : 'log';
  const yType = isOpt ? 'value' : 'log';
  const xr = isOpt ? optWaveRange : sedWaveRange;
  const yr = isOpt ? optFluxRange : sedFluxRange;
  const xMajor = isOpt ? optWaveTicks : sedWaveTicks;
  const xMinor = isOpt ? optWaveMinor : sedWaveMinorTicks;
  const yMajor = isOpt ? optFluxTicks : sedFluxTicks;
  const yMinor = isOpt ? optFluxMinor : sedFluxMinor;
  const line = { show: true, onZero: false, lineStyle: { color: BLACK, width: 2 } };
  const noLine = { show: false, onZero: false };
  const base = (type, r) => ({ gridIndex: gi, type: type, min: r[0], max: r[1], splitLine: { show: false }, silent: true, logBase: 10 });
  const tick = (vals, len) => ({ show: true, inside: true, length: len, customValues: vals, lineStyle: { color: BLACK, width: 1.4 } });
  const xi = option.xAxis.length;
  const labelFont = isOpt ? 21 : 22;
  option.xAxis.push(Object.assign(base(xType, xr), {
    position: 'bottom', axisLine: line, axisTick: tick(xMajor, 8),
    axisLabel: { show: isBottom, customValues: xMajor, fontFamily: SERIF, fontSize: labelFont, color: BLACK, margin: isOpt ? 6 : 5,
      formatter: v => isOpt ? String(v) : Number(v).toFixed(1) }
  }));
  option.xAxis.push(Object.assign(base(xType, xr), { position: 'bottom', axisLine: noLine, axisTick: tick(xMinor, 4), axisLabel: { show: false } }));
  option.xAxis.push(Object.assign(base(xType, xr), { position: 'top', axisLine: line, axisTick: tick(xMajor, 8), axisLabel: { show: false } }));
  option.xAxis.push(Object.assign(base(xType, xr), { position: 'top', axisLine: noLine, axisTick: tick(xMinor, 4), axisLabel: { show: false } }));

  const yi = option.yAxis.length;
  option.yAxis.push(Object.assign(base(yType, yr), {
    position: 'left', axisLine: line, axisTick: tick(yMajor, 8),
    axisLabel: isOpt
      ? { show: true, customValues: yMajor, fontFamily: SERIF, fontSize: 21, color: BLACK, margin: 5, formatter: v => Number(v).toFixed(1) }
      : { show: true, customValues: yMajor, margin: 6, formatter: supLabel,
          rich: { b: { fontFamily: SERIF, fontSize: 21, lineHeight: 26, color: BLACK },
                  s: { fontFamily: SERIF, fontSize: 15, color: BLACK, verticalAlign: 'top' } } }
  }));
  option.yAxis.push(Object.assign(base(yType, yr), { position: 'left', axisLine: noLine, axisTick: tick(yMinor, 4), axisLabel: { show: false } }));
  if (withRight) {
    option.yAxis.push(Object.assign(base(yType, yr), { position: 'right', axisLine: line, axisTick: tick(yMajor, 8), axisLabel: { show: false } }));
    option.yAxis.push(Object.assign(base(yType, yr), { position: 'right', axisLine: noLine, axisTick: tick(yMinor, 4), axisLabel: { show: false } }));
  }
  return { xi: xi, yi: yi };
}

function magRich(color, size) {
  return {
    m: { fontFamily: SERIF, fontStyle: 'italic', fontSize: size, lineHeight: 32, fill: color, color: color },
    r: { fontFamily: SERIF, fontStyle: 'italic', fontSize: Math.round(size * 0.68), fill: color, color: color, verticalAlign: 'bottom' },
    t: { fontFamily: SERIF, fontSize: size, lineHeight: 32, fill: color, color: color }
  };
}

function addText(x, y, text, opts) {
  option.graphic.push({
    type: 'text', x: x, y: y, z: 100, silent: true, rotation: opts.rotation || 0,
    style: Object.assign({ text: text, align: opts.align || 'left', verticalAlign: 'middle',
      textAlign: opts.align || 'left', textVerticalAlign: 'middle', fill: opts.color || BLACK }, opts.style || {})
  });
}

for (let p = 0; p < 4; p++) {
  // optical column
  const gTop = LEFT.top + p * LEFT.h;
  option.grid.push({ left: LEFT.left, top: gTop, width: LEFT.width, height: LEFT.h, show: false });
  let ax = addAxes(option.grid.length - 1, 'opt', p === 3, true);
  option.series.push({ type: 'line', name: modelNames[1], xAxisIndex: ax.xi, yAxisIndex: ax.yi, data: optSeries[p][0],
    symbol: 'none', showSymbol: false, lineStyle: { color: BLACK, width: 1.4 }, z: 2, silent: true });
  option.series.push({ type: 'line', name: modelNames[0], xAxisIndex: ax.xi, yAxisIndex: ax.yi, data: optSeries[p][1],
    symbol: 'none', showSymbol: false, lineStyle: { color: PINK, width: 2.6 }, z: 3, silent: true });

  const lx = LEFT.left + LEFT.width - 13;
  addText(lx, gTop + 32, '{m|M}{r|R}{t| = -' + magPwr[p].slice(1) + ' ; ' + epochs[p] + '}', { align: 'right', style: { rich: magRich(BLACK, 23) } });
  addText(lx, gTop + 72, '{m|M}{r|R}{t| = -' + magNoPwr[p].slice(1) + '}', { align: 'right', style: { rich: magRich(PINK, 23) } });

  // UV + optical + NIR column
  const rTop = RIGHT.top + p * RIGHT.h;
  option.grid.push({ left: RIGHT.left, top: rTop, width: RIGHT.width, height: RIGHT.h, show: false });
  ax = addAxes(option.grid.length - 1, 'sed', p === 3, false);
  option.series.push({ type: 'line', name: modelNames[1], xAxisIndex: ax.xi, yAxisIndex: ax.yi, data: sedSeries[p][0],
    symbol: 'none', showSymbol: false, lineStyle: { color: BLACK, width: 1.5 }, z: 2, silent: true });
  option.series.push({ type: 'line', name: modelNames[0], xAxisIndex: ax.xi, yAxisIndex: ax.yi, data: sedSeries[p][1],
    symbol: 'none', showSymbol: false, lineStyle: { color: PINK, width: 3 }, z: 3, silent: true });
  option.series.push({ type: 'line', xAxisIndex: ax.xi, yAxisIndex: ax.yi, data: [], z: 5, silent: true,
    markArea: { silent: true, z: 5,
      itemStyle: { color: 'rgba(55,108,188,0.30)', borderColor: '#2f5a9e', borderWidth: 2 },
      data: [[{ xAxis: sedWaveRange[0] }, { xAxis: uvEdge }]] } });

  const rx = RIGHT.left + RIGHT.width - 8;
  addText(rx, rTop + 30.5, '{m|M}{r|R}{t| = -' + magPwr[p].slice(1) + ' ; ' + epochs[p] + '}', { align: 'right', style: { rich: magRich(BLACK, 23) } });
  addText(rx, rTop + 71.5, '{m|M}{r|R}{t| = -' + magNoPwr[p].slice(1) + '}', { align: 'right', style: { rich: magRich(PINK, 23) } });
}

// model names in the first row
addText(703, LEFT.top + 167, modelNames[0], { align: 'right', color: PINK, style: { fontFamily: SERIF, fontSize: 18.5 } });
addText(703, LEFT.top + 192, modelNames[1], { align: 'right', color: BLACK, style: { fontFamily: SERIF, fontSize: 18.5 } });
addText(1425, RIGHT.top + 165, modelNames[0], { align: 'right', color: PINK, style: { fontFamily: SERIF, fontSize: 23 } });
addText(1425, RIGHT.top + 190, modelNames[1], { align: 'right', color: BLACK, style: { fontFamily: SERIF, fontSize: 23 } });

// column headings and epoch tags
addText(81, 21, 'Optical only', { style: { fontFamily: SANS, fontWeight: 'bold', fontSize: 37 } });
addText(797, 21, 'UV+ Optical + NIR', { style: { fontFamily: SANS, fontWeight: 'bold', fontSize: 37 } });
addText(101, 69, epochs[0], { style: { fontFamily: SANS, fontWeight: 'bold', fontSize: 28 } });
addText(87, 730, epochs[3], { style: { fontFamily: SANS, fontWeight: 'bold', fontSize: 28 } });

// axis titles
const yTitleRich = {
  f: { fontFamily: SERIF, fontStyle: 'italic', fontSize: 23, lineHeight: 30, fill: BLACK },
  l: { fontFamily: SERIF, fontStyle: 'italic', fontSize: 16, fill: BLACK, verticalAlign: 'bottom' },
  t: { fontFamily: SERIF, fontSize: 23, lineHeight: 30, fill: BLACK }
};
addText(22, 494, '{f|F}{l|\u03bb}{t| (normalized)}', { align: 'center', rotation: Math.PI / 2, style: { rich: yTitleRich } });
addText(738, 497, '{f|F}{l|\u03bb}{t| (normalized)}', { align: 'center', rotation: Math.PI / 2, style: { rich: yTitleRich } });
const xTitleRich = {
  i: { fontFamily: SERIF, fontStyle: 'italic', fontSize: 23, fill: BLACK },
  t: { fontFamily: SERIF, fontSize: 23, fill: BLACK },
  u: { fontFamily: SERIF, fontStyle: 'italic', fontSize: 23, fill: BLACK }
};
addText(400, 970, '{i|\u03bb}{t| [\u00c5]}', { align: 'center', style: { rich: xTitleRich } });
addText(1117, 981, '{i|\u03bb}{t| [}{u|\u03bc}{t|m]}', { align: 'center', style: { rich: xTitleRich } });

const chart = echarts.init(document.getElementById('chart'), null, { renderer: 'canvas' });
chart.setOption(option);
</script>
</body>
</html>
